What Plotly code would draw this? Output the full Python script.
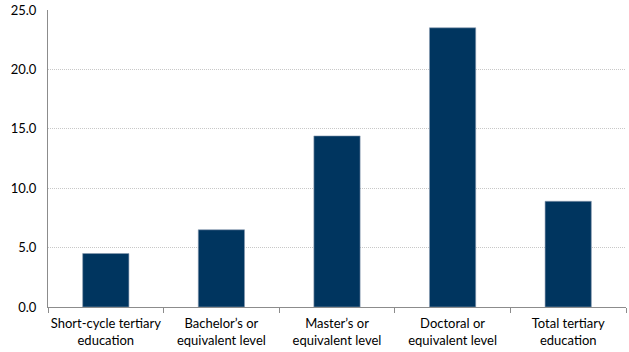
import plotly.graph_objects as go

categories = ["Short-cycle tertiary<br>education", "Bachelor’s or<br>equivalent level",
              "Master’s or<br>equivalent level", "Doctoral or<br>equivalent level",
              "Total tertiary<br>education"]
values = [4.5, 6.5, 14.4, 23.5, 8.9]
y_ticks = [0, 5, 10, 15, 20, 25]
y_tick_labels = ["0.0", "5.0", "10.0", "15.0", "20.0", "25.0"]

fig = go.Figure(go.Bar(
    x=categories, y=values,
    marker=dict(color="#00355F", line=dict(color="#8a9bb0", width=0.6)),
))
fig.update_layout(
    width=629, height=352,
    margin=dict(l=48, r=3, t=10, b=45),
    paper_bgcolor="white", plot_bgcolor="white",
    bargap=0.6, showlegend=False,
    font=dict(family="Lato, Open Sans, sans-serif", size=13, color="#000000"),
)
fig.update_yaxes(
    range=[0, 25], tickvals=y_ticks, ticktext=y_tick_labels,
    showgrid=True, gridcolor="#c8c8c8", griddash="1px,1px", gridwidth=1,
    showline=True, linecolor="#8c8c8c", linewidth=1,
    ticks="", ticklen=0, zeroline=False, ticklabelstandoff=8,
    automargin=False,
)
fig.update_xaxes(
    type="category", showline=True, linecolor="#8c8c8c", linewidth=1,
    ticks="outside", tickson="boundaries", ticklen=5, tickcolor="#8c8c8c",
    showgrid=False, ticklabelstandoff=4, tickangle=0, automargin=False,
)
fig.write_html("out.html")
